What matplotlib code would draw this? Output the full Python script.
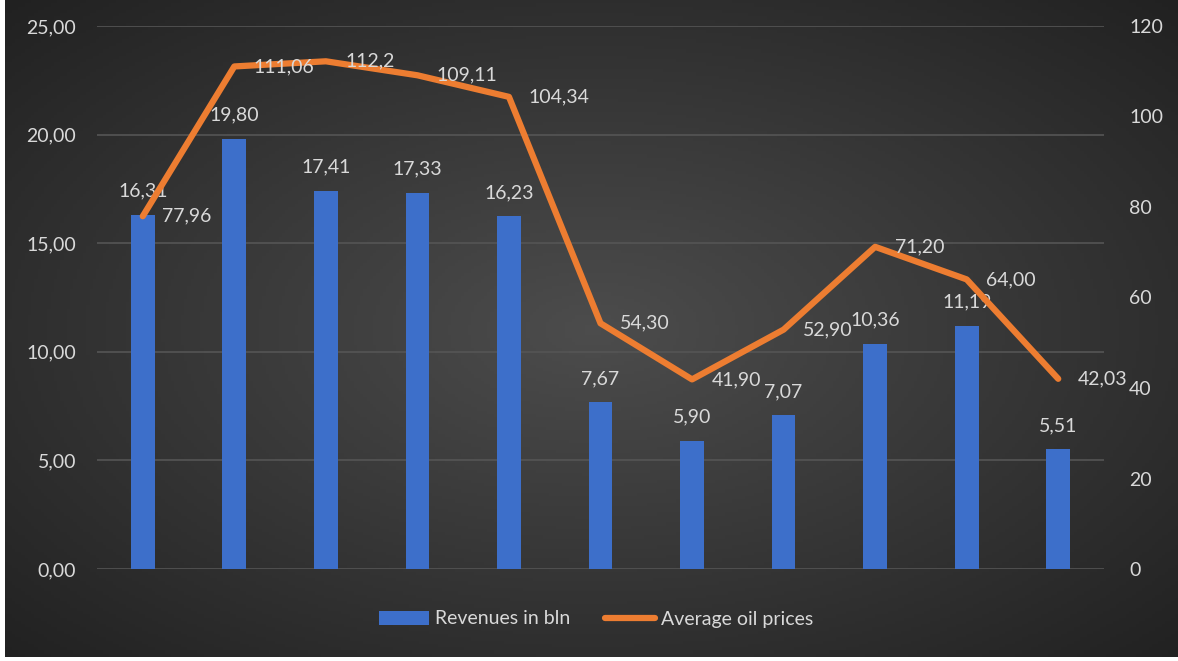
import numpy as np
import matplotlib.pyplot as plt
from matplotlib.patches import Patch
from matplotlib.lines import Line2D

plt.rcParams['font.family'] = ['Lato', 'DejaVu Sans']

# ----- data -----
revenues = [16.31, 19.80, 17.41, 17.33, 16.23, 7.67, 5.90, 7.07, 10.36, 11.19, 5.51]
rev_labels = ["16,31", "19,80", "17,41", "17,33", "16,23", "7,67", "5,90", "7,07", "10,36", "11,19", "5,51"]
oil = [77.96, 111.06, 112.2, 109.11, 104.34, 54.30, 41.90, 52.90, 71.20, 64.00, 42.03]
oil_labels = ["77,96", "111,06", "112,2", "109,11", "104,34", "54,30", "41,90", "52,90", "71,20", "64,00", "42,03"]
left_ticks = [0, 5, 10, 15, 20, 25]
left_tick_labels = ["0,00", "5,00", "10,00", "15,00", "20,00", "25,00"]
right_ticks = [0, 20, 40, 60, 80, 100, 120]

TXT = "#d9d9d9"
BLUE = "#3d6fca"
ORANGE = "#ed7d31"
GRID = "#555555"
FS = 14

W, H = 1178, 661
fig = plt.figure(figsize=(W / 100, H / 100), dpi=100, facecolor="white")

# ----- radial gradient background -----
bg = fig.add_axes([5 / W, 4 / H, 1 - 5 / W, 1 - 4 / H], zorder=0)
yy, xx = np.mgrid[0:200, 0:360]
d = np.sqrt(((xx - 180) / 180.0) ** 2 + ((yy - 100) / 100.0) ** 2) / np.sqrt(2)
shade = 0.30 - 0.17 * d
bg.imshow(np.dstack([shade, shade, shade]), aspect="auto", extent=[0, 1, 0, 1])
bg.set_axis_off()

# ----- main axes -----
ax = fig.add_axes([97 / W, 1 - 569 / H, (1104 - 97) / W, (569 - 26) / H], zorder=1)
ax.patch.set_visible(False)
x = np.arange(len(revenues))
ax.bar(x, revenues, width=0.26, color=BLUE, zorder=2)
ax.set_xlim(-0.5, len(revenues) - 0.5)
ax.set_ylim(0, 25)
ax.set_yticks(left_ticks)
ax.set_yticklabels(left_tick_labels)
ax.set_xticks([])
ax.tick_params(axis="y", length=0, pad=15, labelsize=FS, labelcolor=TXT)
for s in ax.spines.values():
    s.set_visible(False)
ax.grid(axis="y", color=GRID, lw=1.2, zorder=0)
ax.set_axisbelow(True)

for xi, v, lab in zip(x, revenues, rev_labels):
    ax.annotate(lab, (xi, v), xytext=(0, 17), textcoords="offset points",
                ha="center", va="center", fontsize=FS, color=TXT, zorder=5)

# ----- secondary axis: oil prices -----
ax2 = ax.twinx()
ax2.patch.set_visible(False)
ax2.plot(x, oil, color=ORANGE, lw=4.5, solid_joinstyle="round", solid_capstyle="round", zorder=3)
ax2.set_ylim(0, 120)
ax2.set_yticks(right_ticks)
ax2.tick_params(axis="y", length=0, pad=18, labelsize=FS, labelcolor=TXT)
for s in ax2.spines.values():
    s.set_visible(False)

for xi, v, lab in zip(x, oil, oil_labels):
    ax2.annotate(lab, (xi, v), xytext=(14, 0), textcoords="offset points",
                 ha="left", va="center", fontsize=FS, color=TXT, zorder=5)

# ----- legend -----
handles = [Patch(facecolor=BLUE, edgecolor="none"),
           Line2D([0], [0], color=ORANGE, lw=4.5, solid_capstyle="round")]
fig.legend(handles, ["Revenues in bln", "Average oil prices"], loc="center",
           bbox_to_anchor=(596 / W, 1 - 619 / H), ncol=2, frameon=False,
           fontsize=FS, labelcolor=TXT, handlelength=2.6, handleheight=0.7,
           handletextpad=0.3, columnspacing=1.75)

fig.savefig("out.png", dpi=100, facecolor="white")
